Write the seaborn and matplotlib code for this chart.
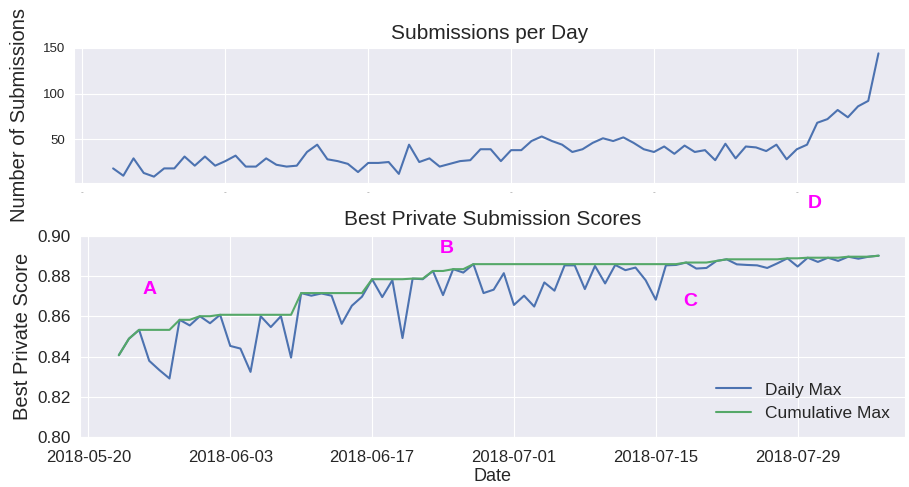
import numpy as np
import pandas as pd
import matplotlib
matplotlib.use("Agg")
import matplotlib.pyplot as plt
import matplotlib.dates as mdates
import seaborn as sns

# ---------- datos ----------
start_date = "2018-05-23"

submissions = [18, 10, 29, 13, 9, 18, 18, 31, 21, 31, 21, 26, 32, 20, 20, 29, 22, 20, 21, 36,
               44, 28, 26, 23, 14, 24, 24, 25, 12, 44, 25, 29, 20, 23, 26, 27, 39, 39, 26, 38,
               38, 48, 53, 48, 44, 36, 39, 46, 51, 48, 52, 46, 39, 36, 42, 34, 43, 36, 38, 27,
               45, 29, 42, 41, 37, 44, 28, 39, 44, 68, 72, 82, 74, 86, 92, 144]

daily_max = [0.8407, 0.8489, 0.8533, 0.8379, 0.8333, 0.8291, 0.8583, 0.8555, 0.8601, 0.8566,
             0.8608, 0.8453, 0.8440, 0.8324, 0.8601, 0.8547, 0.8601, 0.8395, 0.8716, 0.8703,
             0.8714, 0.8703, 0.8563, 0.8653, 0.8698, 0.8785, 0.8696, 0.8780, 0.8492, 0.8788,
             0.8785, 0.8826, 0.8706, 0.8835, 0.8818, 0.8860, 0.8716, 0.8733, 0.8815, 0.8657,
             0.8703, 0.8649, 0.8769, 0.8728, 0.8854, 0.8854, 0.8736, 0.8851, 0.8764, 0.8856,
             0.8830, 0.8843, 0.8780, 0.8683, 0.8854, 0.8856, 0.8868, 0.8838, 0.8841, 0.8876,
             0.8884, 0.8859, 0.8856, 0.8854, 0.8841, 0.8864, 0.8889, 0.8848, 0.8892, 0.8871,
             0.8892, 0.8876, 0.8897, 0.8887, 0.8897, 0.8902]

cumulative_max = [0.8407, 0.8489, 0.8533, 0.8533, 0.8533, 0.8533, 0.8583, 0.8583, 0.8601, 0.8601,
                  0.8608, 0.8608, 0.8608, 0.8608, 0.8608, 0.8608, 0.8608, 0.8608, 0.8716, 0.8716,
                  0.8716, 0.8716, 0.8716, 0.8716, 0.8716, 0.8785, 0.8785, 0.8785, 0.8785, 0.8788,
                  0.8788, 0.8826, 0.8826, 0.8835, 0.8835, 0.8860, 0.8860, 0.8860, 0.8860, 0.8860,
                  0.8860, 0.8860, 0.8860, 0.8860, 0.8860, 0.8860, 0.8860, 0.8860, 0.8860, 0.8860,
                  0.8860, 0.8860, 0.8860, 0.8860, 0.8860, 0.8860, 0.8868, 0.8868, 0.8868, 0.8876,
                  0.8884, 0.8884, 0.8884, 0.8884, 0.8884, 0.8884, 0.8889, 0.8889, 0.8892, 0.8892,
                  0.8892, 0.8892, 0.8897, 0.8897, 0.8897, 0.8902]

tick_dates = ["2018-05-20", "2018-06-03", "2018-06-17", "2018-07-01", "2018-07-15", "2018-07-29"]
score_ticks = [0.80, 0.82, 0.84, 0.86, 0.88, 0.90]
count_ticks = [50, 100, 150]

notes = ["A", "B", "C", "D"]
note_dates = ["2018-05-26 02:00", "2018-06-24 10:00", "2018-07-18 10:00", "2018-07-30 17:00"]
note_scores = [0.8732, 0.8940, 0.8673, 0.9162]

dates = pd.date_range(start_date, periods=len(submissions), freq="D")
df = pd.DataFrame({"Date": dates, "Submissions": submissions,
                   "Daily Max": daily_max, "Cumulative Max": cumulative_max})

# ---------- estilo ----------
sns.set_style("darkgrid")
plt.rcParams['font.family'] = ['Liberation Sans', 'DejaVu Sans']
plt.rcParams['text.color'] = '.15'
plt.rcParams['axes.labelcolor'] = '.15'
plt.rcParams['xtick.color'] = '.15'
plt.rcParams['ytick.color'] = '.15'

blue = '#4C72B0'
green = '#55A868'
xmin = pd.Timestamp("2018-05-20") - pd.Timedelta(hours=20)
xmax = pd.Timestamp("2018-05-20") + pd.Timedelta(days=80.6)
ticks = pd.to_datetime(tick_dates)

fig = plt.figure(figsize=(9.09, 4.87), dpi=100)
ax1 = fig.add_axes([0.0814, 0.6242, 0.9142, 0.2793])
ax2 = fig.add_axes([0.0880, 0.1027, 0.9076, 0.4127])

# ---------- arriba: envíos por día ----------
sns.lineplot(data=df, x="Date", y="Submissions", ax=ax1, color=blue, lw=1.5)
ax1.set_xlim(xmin, xmax)
ax1.set_ylim(2, 151)
ax1.set_yticks(count_ticks)
ax1.set_xticks(ticks)
ax1.set_xticklabels(["-"] * len(ticks), fontsize=6, color='.6')
ax1.tick_params(axis='y', labelsize=9.5, pad=3)
ax1.tick_params(axis='x', pad=1)
ax1.set_xlabel("")
ax1.set_ylabel("Number of Submissions", fontsize=14.5, labelpad=10)
ax1.set_title("Submissions per Day", fontsize=15, pad=6)

# ---------- abajo: mejores puntuaciones ----------
sns.lineplot(data=df, x="Date", y="Daily Max", ax=ax2, color=blue, lw=1.5, label="Daily Max")
sns.lineplot(data=df, x="Date", y="Cumulative Max", ax=ax2, color=green, lw=1.5, label="Cumulative Max")
ax2.set_xlim(xmin, xmax)
ax2.set_ylim(0.80, 0.90)
ax2.set_yticks(score_ticks)
ax2.yaxis.set_major_formatter(matplotlib.ticker.FormatStrFormatter('%.2f'))
ax2.set_xticks(ticks)
ax2.xaxis.set_major_formatter(mdates.DateFormatter('%Y-%m-%d'))
ax2.tick_params(axis='y', labelsize=12.3, pad=3)
ax2.tick_params(axis='x', labelsize=12, pad=6)
ax2.set_xlabel("Date", fontsize=13, labelpad=2)
ax2.set_ylabel("Best Private Score", fontsize=14.5)
ax2.set_title("Best Private Submission Scores", fontsize=15, pad=8)
ax2.legend(loc='lower right', frameon=False, fontsize=12.5)

for label, d, s in zip(notes, note_dates, note_scores):
    ax2.text(pd.Timestamp(d), s, label, color='#FF00FF', fontsize=14, fontweight='bold',
             ha='center', va='center', clip_on=False)

fig.savefig("out.png", dpi=100)
